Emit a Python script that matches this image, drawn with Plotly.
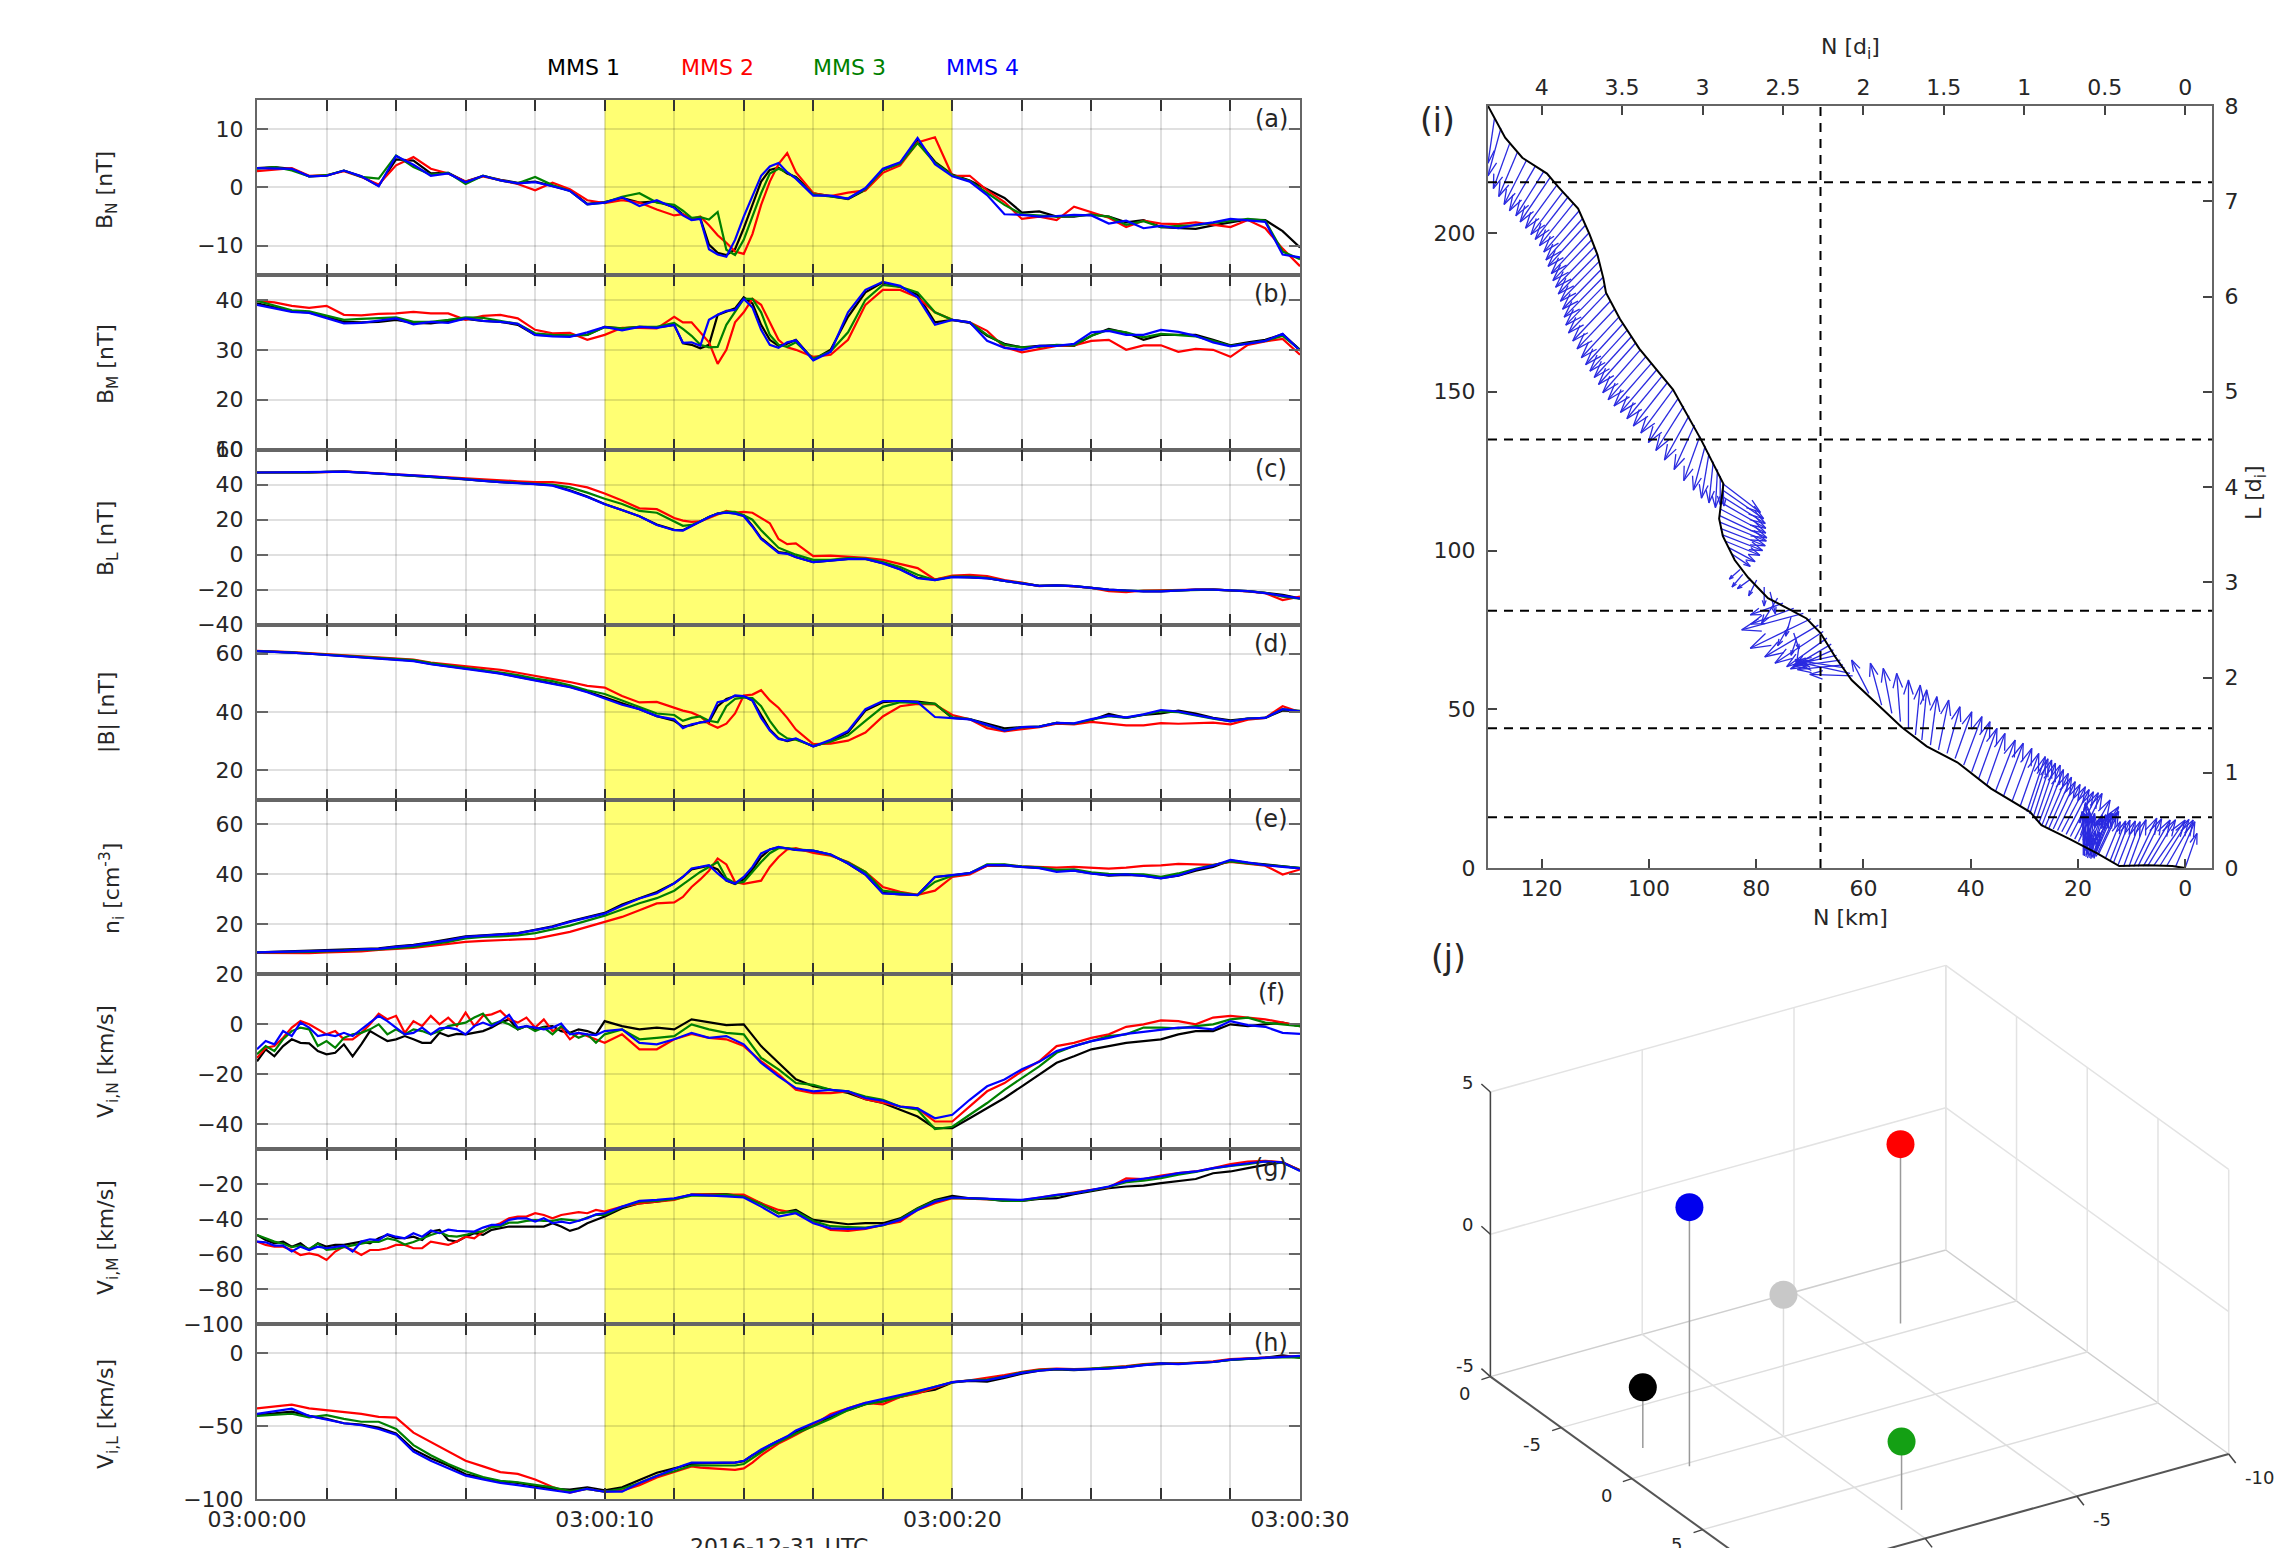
import plotly.graph_objects as go

W, H = 2275, 1548
FONT = "DejaVu Sans"

# ---- time grids (seconds after 03:00:00) ----
T = [0,.5,1,1.5,2,2.5,3,3.5,4,4.5,5,5.5, 6,6.5,7,7.5,8,8.5,9,9.5,10,10.5,11,11.5,
     12,12.25,12.5,12.75,13,13.25,13.5,13.75,14,14.25,14.5,14.75,15,15.25,
     15.5,16,16.5,17,17.5,18,18.5,19,19.5,20, 20.5,21,21.5,22,22.5,23,23.5,24,24.5,25,
     25.5,26,26.5,27,27.5,28,28.5,29,29.5,30]
TF = [0,.25,.5,.75,1,1.25,1.5,1.75,2,2.25, 2.5,2.75,3,3.25,3.5,3.75,4,4.25,4.5,4.75,
      5,5.25,5.5,5.75,6,6.25,6.5,6.75,7,7.25, 7.5,7.75,8,8.25,8.5,8.75,9,9.25,9.5,9.75,
      10,10.5,11,11.5,12,12.5,13,13.5,14,14.5, 15,15.5,16,16.5,17,17.5,18,18.5,19,19.5,
      20,20.5,21,21.5,22,22.5,23,23.5,24,24.5, 25,25.5,26,26.5,27,27.5,28,28.5,29,29.5,30]

# ---- (a) B_N ----
BN_K = [3.3,3.5,3.2,1.9,2.0,2.9,1.9,0.3,4.8,4.6,2.4,2.5,
        1.0,2.0,1.3,0.8,1.0,0.2,-0.5,-2.8,-2.5,-1.8,-2.6,-2.4,
        -3.4,-4.6,-5.5,-5.3,-9.8,-11.2,-11.6,-10.6,-7,-3,1,3.0,3.4,2.4,
        1.8,-1,-1.5,-2,-0.4,3,4.2,8,4.4,2.2,
        1.2,-0.3,-1.8,-4.3,-4.1,-5,-5,-4.6,-5,-6,
        -5.6,-6.8,-7,-7.1,-6.5,-6,-5.5,-5.6,-7.5,-10.3]
BN_R = [2.8,3.0,3.3,2.0,2.1,2.8,1.8,0.5,3.8,5.2,3.2,2.4,
        1.0,1.9,1.2,0.6,-0.5,0.8,-0.3,-2.2,-2.7,-2.2,-2.6,-3.8,
        -4.8,-4.6,-5.4,-5.0,-6.5,-8.2,-9.5,-11,-11.4,-8,-3,1,4,5.9,
        2.6,-1.0,-1.5,-0.9,-0.5,2.5,3.8,7.7,8.6,2.0,
        2.0,-0.5,-2.5,-5.4,-5.0,-5.6,-3.3,-4.3,-5.2,-6.8,
        -5.7,-6.2,-6.3,-6.0,-6.4,-6.8,-5.6,-7,-10.5,-13.5]
BN_G = [3.2,3.5,2.9,1.9,2.1,2.9,1.8,1.5,5.5,3.5,2.2,2.5,
        0.6,2.0,1.2,0.7,1.8,0.4,-0.6,-2.9,-2.6,-1.6,-1.0,-2.6,
        -3,-4,-5.2,-5.1,-5.5,-4.2,-10.7,-11.6,-9,-5,-1,2.4,3.2,2.6,
        1.6,-1.2,-1.6,-1.9,-0.3,3,4.1,7.6,4.2,2.1,
        1.1,-1,-3,-4.6,-4.8,-5,-4.9,-4.7,-5,-6.4,
        -5.8,-6.8,-6.6,-6.5,-6.1,-5.8,-5.4,-5.7,-11,-12.3]
BN_B = [3.3,3.3,3.2,1.9,2.0,2.9,1.9,0.2,5.4,3.9,2.0,2.4,
        0.9,2.0,1.2,0.7,0.9,0.2,-0.6,-2.9,-2.6,-1.7,-3.2,-2.2,
        -3.5,-4.8,-5.6,-5.4,-10.6,-11.5,-11.9,-9,-5,-1.5,2,3.6,4.2,2.6,
        1.5,-1.4,-1.4,-1.9,-0.1,3.2,4.3,8.5,4,1.9,
        1,-1.3,-4.6,-4.7,-5,-4.9,-4.7,-4.8,-6.2,-5.7,
        -7,-6.6,-7,-6.4,-6,-5.4,-5.7,-5.9,-11.5,-12]
# ---- (b) B_M ----
BM_K = [39.3,38.5,37.7,37.5,36.6,35.6,35.5,35.6,36.0,35.4,35.3,35.8,
        36.2,35.8,35.6,35.0,33,32.9,32.8,33,34.6,34.3,34.6,34.5,
        35,31.3,31,30.3,31,37,37.6,38.3,40.5,39.3,35,32,30.8,31.2,
        32,28,30,36.6,41.5,43.5,42.6,41,35.5,36,
        35.4,32.8,31.2,30.5,30.8,30.9,30.8,32.8,34.2,33.4,
        32,33,33,33,32,30.9,31.5,32,33.1,30]
BM_R = [39.8,39.5,38.8,38.4,38.8,37,36.9,37.2,37.3,37.6,37.3,37.3,
        36.0,36.8,37,36.3,34,33.3,33.4,32,33,34.4,34.4,34.3,
        36.6,35.5,35.5,33.5,31.5,27.2,30,35.5,37.5,40.2,39,35.5,32,30.5,
        30,28.6,29,32,39,42,42,40.5,37.5,36,
        35.5,33.8,30.5,29.5,30.2,30.8,30.9,31.8,32,30,
        30.9,30.9,29.6,30.2,30,28.6,31,31.7,32.2,29]
BM_G = [39.8,38.8,37.9,37.7,36.8,36.0,36.2,36.4,36.5,35.6,35.6,36,
        36.5,36.4,35.8,35.2,33.3,33,32.9,33,34.5,34.3,34.6,34.6,
        35.4,34.2,32.8,31,30.5,30.6,35,37.6,40.2,40.2,37.5,33,31,30.6,
        31.5,28.2,29.7,33.5,40,43,42.6,41.5,37.5,36,
        35.5,33,31,30.5,30.6,31,30.9,32.8,34,33.5,
        32.5,33.2,33,32.7,31.8,30.8,31.3,31.8,32.8,30]
BM_B = [39,38.3,37.6,37.4,36.4,35.3,35.4,35.8,36.3,35.1,35.6,35.4,
        36.3,35.8,35.6,35.2,33,32.7,32.6,33.5,34.6,33.9,34.6,34.4,
        35,31.4,31.5,30.8,36,37,37.8,38,40.2,38.5,34,31,30.4,31.5,
        31.9,27.9,29.6,37.5,42,43.6,42.8,40.5,35,36,
        35.5,31.8,30.4,30,30.8,30.8,31.2,33.5,33.8,33,
        33,34,33.6,32.8,31.5,30.7,31.3,31.8,33.2,29.8]
# ---- (c) B_L ----
BL_K = [47,47,46.8,47,47.3,47.5,47,46.4,45.8,45.3,44.6,43.8,
        43,42.1,41.5,41,40.3,39.7,36.8,33.2,29,25.7,22,17.2,
        14.2,14,16.5,19,21.5,23.5,24.2,23.6,22.5,16.5,9.5,5.5,1.5,0.8,
        -1.3,-4.2,-3.4,-2.4,-2.4,-4.8,-8.3,-13.2,-14.3,-12.6,
        -13,-13.4,-15,-16.2,-17.8,-17.6,-18,-19,-20,-20.5,
        -21,-21,-20.5,-20,-20,-20.3,-20.8,-21.8,-23,-25]
BL_R = [47,47,47,47,47.2,47.6,47,46.5,46,45.5,45,44,
        43.5,43,42.2,42,41.5,41.5,40.4,38.5,35,31,26.5,26,
        21,19.5,18.8,19,21,23,25,24,24.5,24,21,18,9,6,
        6.5,-0.8,-0.5,-1.2,-1.8,-3,-5.5,-7.7,-14.2,-12,
        -11.5,-12.2,-14.5,-16,-18,-17.5,-18.2,-19,-20.8,-21.5,
        -20.5,-20.3,-20.4,-20,-19.8,-20.5,-21,-22,-26,-24]
BL_G = [47,47,46.8,47,47.3,47.5,47,46.4,45.8,45.3,44.6,43.8,
        43.2,42.3,41.6,41,40.5,40,38.5,35.5,32,29,25,24,
        19,16.5,17,19,21.5,23.5,24.5,24.5,22.5,20,14,9,4,2,
        0,-3,-3,-2,-2.2,-4.3,-7,-11.5,-14.5,-12.5,
        -12.5,-13.3,-15,-16.2,-17.8,-17.6,-18,-19,-20.2,-20.6,
        -20.8,-20.7,-20.4,-20,-20,-20.4,-20.8,-21.8,-24,-25.2]
BL_B = [47,47,46.9,47,47.3,47.5,47,46.5,46,45.4,44.8,44,
        43,42.2,41.5,41,40.3,39.5,36.5,33,28.8,25.5,22,17,
        14,13.8,16.5,19,21.5,23.5,24,23.5,22,16,9,5,1,0.5,
        -1.5,-4.3,-3.5,-2.5,-2.5,-5,-8.5,-13.5,-14.5,-12.8,
        -13,-13.5,-15,-16.3,-17.8,-17.6,-18,-19,-20,-20.5,
        -21,-21,-20.5,-20,-20,-20.3,-20.8,-22,-23.5,-25]
# ---- (d) |B| ----
BT_K = [60.9,60.7,60.4,60,59.6,59.2,58.8,58.4,58,57.6,56.5,55.8,
        55,54.2,53.3,52.2,51,50,48.7,47,45,43,41,38.6,
        37,35,35.5,36.5,36.5,42,44.5,45.5,45.4,44,39,34,31,30,
        30.8,28.2,30,33,40.5,43.4,43.8,43.6,42.8,38,
        37.6,36,34.4,34.8,35,36.3,36,37.2,39.4,38,
        39,39.5,40.5,39.5,38,37.2,37.8,38,40.5,40.4]
BT_R = [61,60.9,60.6,60.2,59.8,59.4,59,58.6,58.3,58,57,56.4,
        55.8,55.2,54.5,53.5,52.5,51.5,50.3,49,48.4,45.5,43.3,43.5,
        41.5,40.5,39.8,38.5,36,34.6,36,39.5,45.7,46,47.5,44,41.5,38,
        34,29,29.2,30.2,33,38.5,42,42.8,42.6,39,
        37.5,34.5,33.4,34,34.8,36,35.8,36.6,36,35.4,
        35.4,36.2,36,36.2,36.4,35.8,37.4,38,42,40]
BT_G = [60.9,60.8,60.5,60.1,59.7,59.3,58.9,58.5,58.1,57.8,56.8,56,
        55.2,54.5,53.6,52.7,51.5,50.6,49.2,47.5,46.2,44,41.8,39.5,
        39,37,38,38.5,37,36.5,42,44.5,45,44.8,42,37,33,31,
        30.5,28.4,29.8,32,37,41.8,43.4,43.2,42.8,38.2,
        37.6,35.4,33.7,34.7,35,36.3,36,37.4,38.6,38,
        39,40.2,40,38.8,37.7,36.8,37.8,38,41,40.3]
BT_B = [60.9,60.7,60.4,60,59.6,59.2,58.8,58.4,58,57.5,56.4,55.6,
        54.8,54,53.2,52,50.8,49.8,48.5,46.8,44.7,42.5,41,38.6,
        37.5,34.5,35.8,36.5,37,43.4,44,45.7,45.5,44,38,33.7,30.8,30.2,
        31,28.2,30.5,33.5,41,43.8,43.8,43.4,38.3,37.9,
        37.5,35.6,33.6,34.8,35,36.3,36.1,37.6,38.8,38.2,
        39.2,40.7,40.2,39,37.8,36.8,37.8,38,41,40.2]
# ---- (e) n_i ----
NI_K = [8.8,9,9.1,9.3,9.5,9.8,10.1,10.4,11.2,11.8,12.8,14,
        15.2,15.6,15.9,16.5,17.8,19.2,21.2,23,24.6,28,30.6,33,
        36.5,39,42,42.8,43.5,42,37.5,36.2,38,42,47,50,50.8,50.4,
        49.8,49.4,48,44.4,40,32.6,32,31.8,39,39.6,
        40.5,43.5,43.6,43,42.6,41.5,41.5,40.5,39.5,39.8,
        39.5,38.5,39.5,41.5,43,45.6,44.6,44,43.4,42.5]
NI_R = [8.6,8.5,8.4,8.5,8.8,9,9.2,9.8,10.2,10.6,11.4,12.2,
        13,13.4,13.8,14,14.2,15.5,17,19,21,23,25.7,28.4,
        28.8,31,35,38,41.5,46.4,44,37,36.2,37,37.5,43,47,50,
        50.5,48.6,47.5,45,41,35,33,31.8,33.5,39,
        40,43.5,43.8,43.2,43,42.7,43,42.5,42.3,42.7,
        43.4,43.6,44.2,44,43.8,45,44.2,43.5,40,42]
NI_G = [8.8,8.8,8.9,9.0,9.2,9.4,9.8,10,10.5,11,12,13,
        14.4,15,15.2,15.6,16.5,18,19.5,21.5,23.5,26,28.5,30.5,
        33.5,36,38.5,41,43,45,38.5,36.5,37,41,45,48.5,50.5,50.5,
        50,49.5,47.8,44.8,41,33.5,32.5,31.7,37,39.5,
        40.5,44,44,43.2,42.8,41.8,42,40.8,40.2,40,
        40,39,40.4,42.3,43.6,45.2,44.4,43.8,43.2,42.6]
NI_B = [8.8,8.9,9.0,9.2,9.4,9.6,10,10.2,11,11.6,12.6,13.6,
        15,15.5,15.8,16.4,17.7,19,21,22.6,24.3,27.5,30.4,32.5,
        36.4,39,42.4,43,43.7,40.4,37.6,36.4,39,43,48.4,50,51,50.4,
        49.8,49.5,48,44.4,40,32.4,32,31.7,39,39.7,
        40.5,43.7,43.7,43,42.5,41,41.5,40.3,39.7,40,
        39.4,38.4,39.6,42,43.5,45.8,44.6,43.7,43,42.4]
# ---- (f) V_i,N (on TF) ----
VN_K = [-14.8,-10,-12.8,-8.7,-6,-7.4,-7.6,-10.7,-12,-11.4,
        -8,-12.8,-8,-2.7,-4.7,-6.7,-6,-4.7,-6,-7.4,
        -7.4,-3.4,-4.7,-3.8,-4,-3.4,-2.7,-1.3,0.7,2,
        -2,-0.7,-2,-1,-0.7,-2.7,-3.4,-2,-2.7,-4,
        1.3,-0.7,-2,-1.3,-2,2,0.7,-0.3,0,-8.7,
        -15.4,-22,-24.8,-26.2,-27.5,-30,-31.5,-34.2,-36.9,-41.6,
        -41.6,-37.6,-33.6,-29.5,-24.8,-20,-15.4,-12.8,-10,-8.7,
        -7.4,-6.7,-6,-4,-2.7,-2.7,0,-0.7,0,0.7,-0.7]
VN_R = [-13.4,-9.4,-8.7,-5.4,-1.3,1.3,0,-2,-4,-2.7,
        -6,-6,-3.4,0,4.3,2,3.4,-3.4,1.3,-0.7,
        3.4,0,2.7,-0.7,4.7,-0.7,3.4,4,5.4,2,
        0.7,2.7,-1.3,2,-2.7,-1.3,-6,-3.4,-4.7,-6,
        -7.4,-4,-10,-10,-6,-3.8,-5.4,-6,-8.7,-14.8,
        -20,-26.2,-27.5,-27.5,-26.8,-30,-31.5,-32.9,-33.6,-38.9,
        -38.9,-32.9,-26.8,-23.5,-18.8,-14.8,-8.7,-7.4,-5.4,-4,
        -1,0,1.6,1.3,0,2.7,3.4,2.7,2,0.7,-0.7]
VN_G = [-12,-8.7,-10.7,-6,-2.7,-1.3,-2,-8.7,-6.7,-9.4,
        -5.4,-4,-3.4,-2,0,-4,-2,-4,-2,-2.7,
        -4,-2.7,-0.7,0,0.7,2.7,4.3,0,1.3,0,
        -2,-0.7,-2.7,-1.3,-4,-0.7,-3.4,-5.4,-4,-7.4,
        -4,-2,-6,-5.4,-4.7,0,-2,-3.4,-4,-13.4,
        -18,-23.5,-24.2,-26.2,-26.8,-28.9,-30.2,-33,-34.2,-41.9,
        -41,-36.2,-31.5,-26.2,-21.5,-16.8,-11.4,-8.7,-6.7,-4.7,
        -4,-1.3,-1.3,-1.6,-0.7,0,2,2.7,0.7,0,-0.7]
VN_B = [-10,-6.7,-8,-2.7,-4.7,0.7,-1.3,-4.7,-4,-4.7,
        -3.4,-4.7,-2,0.7,3.4,1.3,-1.3,-4,-3.4,-1.3,
        -4,-1.6,-1.3,-2,-4,-0.7,0.7,-0.7,1.3,3.8,
        -1.3,-0.7,-1.3,-2,-1.3,0.3,-4,-3.4,-4,-4.3,
        -2.7,-2,-7.4,-8,-6,-3.4,-5.4,-4.7,-8,-15.4,
        -20.8,-25.5,-26.8,-26.2,-26.8,-29.5,-30.6,-32.9,-33.6,-37.6,
        -36.2,-30.2,-24.8,-22.1,-18,-15,-10.7,-8.7,-6.7,-5.4,
        -3.8,-3,-2,-1.3,-1.3,-2,1.3,-0.3,-1,-3.4,-3.8]
# ---- (g) V_i,M (on TF) ----
VM_K = [-49,-51.9,-53.8,-52.8,-55.7,-53.8,-57.6,-53.8,-55.7,-54.7,
        -54.7,-53.8,-52.8,-53.8,-50.9,-49,-50.9,-50.9,-50,-51.9,
        -47.1,-46.1,-51.9,-52.8,-50,-48,-49,-46.1,-45.2,-44.2,
        -44.2,-44.2,-44.2,-44.2,-42.3,-44.2,-46.7,-45.2,-42.3,-40.4,
        -38.5,-33.7,-30.9,-30,-28.4,-26,-26,-25.7,-27,-30.9,
        -36.6,-34.7,-40.4,-41.8,-42.9,-42.3,-42.3,-39.5,-33.7,-29,
        -26.7,-28,-28.4,-29.5,-29.5,-28.4,-28,-25.7,-23.8,-22.3,
        -21.3,-20.8,-19.4,-18,-17,-13.7,-12.7,-10.8,-8.9,-7.5,-12]
VM_R = [-52.8,-54.7,-55.7,-55.7,-57.6,-60.5,-59.5,-60.5,-63.3,-58.5,
        -55.7,-57.6,-60.5,-57.6,-57.6,-56.6,-54.7,-54.7,-56.6,-56.6,
        -52.8,-53.8,-54.7,-52.8,-50,-50.9,-47.1,-44.2,-42.3,-39.5,
        -38.5,-38.5,-36.6,-37.6,-39.5,-37.6,-36.6,-36,-36.6,-34.7,
        -35.6,-32.8,-31,-30,-29,-26,-26,-25.7,-26,-30.9,
        -34.7,-36.6,-41.4,-46.1,-46.7,-45.6,-43.3,-41.4,-34.7,-30.9,
        -28,-28.4,-29,-29,-29.2,-27.6,-26,-24.5,-23.2,-21.9,
        -16.6,-17,-15,-13.7,-12.7,-10.8,-8.5,-7,-6.6,-7.5,-12]
VM_G = [-49,-51,-52.8,-54,-56,-55,-57,-54,-57.5,-57,
        -56,-55,-54,-53,-53,-51,-52,-54.5,-53,-51,
        -49,-47.5,-49.5,-50,-49,-47.5,-47,-44.5,-44,-42,
        -42,-41,-40.5,-41,-41,-40,-40.5,-41,-39,-37.5,
        -37.5,-33,-30,-29.5,-28.5,-26.5,-26.5,-26,-27,-31.5,
        -36.5,-35.5,-41,-44,-44.5,-44.8,-43.5,-40,-34,-29.5,
        -27.8,-28,-28.5,-29.5,-29.5,-28,-26.5,-25,-23.5,-21.5,
        -18.8,-18,-16.5,-14.5,-13,-11,-9.5,-8.5,-7,-7.8,-12.2]
VM_B = [-52.8,-53.2,-55.1,-55.1,-58.5,-55.7,-57.6,-55.7,-56.6,-55.7,
        -55.1,-58.5,-52.8,-51.5,-51.9,-48.6,-50,-50.9,-48,-50,
        -46.5,-48,-46,-46.7,-46.7,-47.1,-44.8,-43.3,-43.3,-40.4,
        -39.5,-39.5,-41.4,-39.5,-42.3,-41.4,-42.3,-41,-39.5,-37.2,
        -36.6,-32.8,-29.5,-29,-28,-26,-26.7,-27,-27.6,-32.8,
        -38.5,-36.6,-42.3,-45.2,-45.6,-45.2,-43.3,-40.4,-34.7,-30,
        -27.6,-28,-28.4,-29,-29,-27.6,-26,-25.2,-23.2,-21.3,
        -18.1,-17,-15.6,-13.7,-12.7,-10.8,-9.3,-8,-7,-7.5,-12.5]
# ---- (h) V_i,L ----
VL_K = [-42.5,-41.5,-40,-43,-45,-48,-49,-51,-55,-66,-72,-77,
        -83,-85.5,-88,-89,-91,-93,-93.5,-92,-94,-92,-87,-82,
        -79,-77.5,-76,-75.5,-75.5,-75.5,-75.5,-75,-74,-70,-67,-63,-60,-57.5,
        -54,-49,-44,-39,-35,-33,-30,-27,-25,-20,
        -19,-19.5,-17,-14,-12,-11,-11.5,-11,-10.5,-9.5,
        -8,-7.5,-7.5,-7,-6,-4.5,-4,-3,-1.5,-3]
VL_R = [-37.8,-36.5,-35.2,-37.8,-39,-40.4,-41.6,-43.7,-44.2,-54.5,-61,-67.4,
        -73.8,-77.6,-81.5,-82.8,-86.6,-91.8,-95.6,-93,-95,-94.3,-90.5,-85.3,
        -81.5,-79.5,-77.6,-78.5,-79,-79.5,-80,-80,-79,-75,-70,-66,-62,-59,
        -56,-49.4,-41.6,-37.8,-34,-35,-30,-27.5,-23.6,-19.8,
        -18.5,-17,-15,-12.8,-11,-10.5,-10.8,-10.5,-9.8,-8.8,
        -7.5,-6.8,-7,-6.5,-5.5,-4,-3.5,-3,-2.5,-2]
VL_G = [-43,-42,-41.5,-44,-42.5,-45,-47,-47,-52,-63,-70,-76,
        -81,-85,-87.5,-88.5,-90,-92,-94.5,-93,-95,-93,-89,-84,
        -81,-79,-77,-77,-77,-77.5,-77.5,-77,-76,-72,-68,-64,-61,-58,
        -55,-50,-45,-39,-35,-33,-30,-26.5,-23,-20,
        -18.5,-18,-16,-13,-11.5,-10.8,-11.2,-10.5,-10,-9.2,
        -7.8,-7,-7.2,-6.8,-6,-4.5,-3.8,-3.2,-2.6,-3]
VL_B = [-41.6,-40,-38,-43,-45.5,-48,-49.4,-52,-55.8,-67.4,-73.8,-79,
        -84,-86.5,-89,-90.5,-92,-94,-95.6,-93,-95,-95,-89,-84,
        -79,-77,-75,-75,-75,-75,-75,-75,-73.8,-70,-66,-63,-60,-57,
        -53,-48,-43,-37.8,-34,-31.4,-28.8,-26,-23,-19.8,
        -18.8,-18.5,-16,-13.5,-12,-10.8,-11.2,-10.8,-10.5,-9.5,
        -8.2,-7,-7.5,-7,-6,-4.4,-3.8,-3,-2.5,-1.8]

PROBES = ["MMS 1", "MMS 2", "MMS 3", "MMS 4"]
PROBE_COLORS = ["#000000", "#ff0000", "#008000", "#0000ff"]

SPAN_START, SPAN_END = 10, 20
TIME_LABEL_VALS = [0, 10, 20, 30]
TIME_LABELS = ["03:00:00", "03:00:10", "03:00:20", "03:00:30"]
TIME_MINOR = [2, 4, 6, 8, 12, 14, 16, 18, 22, 24, 26, 28]

PANELS = [
 dict(tag="(a)", label="B<sub>N</sub> [nT]", rng=[-15, 15], ticks=[-10, 0, 10], t=T, s=[BN_K, BN_R, BN_G, BN_B]),
 dict(tag="(b)", label="B<sub>M</sub> [nT]", rng=[10, 45], ticks=[10, 20, 30, 40], t=T, s=[BM_K, BM_R, BM_G, BM_B]),
 dict(tag="(c)", label="B<sub>L</sub> [nT]", rng=[-40, 60], ticks=[-40, -20, 0, 20, 40, 60], t=T, s=[BL_K, BL_R, BL_G, BL_B]),
 dict(tag="(d)", label="|B| [nT]", rng=[10, 70], ticks=[20, 40, 60], t=T, s=[BT_K, BT_R, BT_G, BT_B]),
 dict(tag="(e)", label="n<sub>i</sub> [cm<sup>-3</sup>]", rng=[0, 70], ticks=[20, 40, 60], t=T, s=[NI_K, NI_R, NI_G, NI_B]),
 dict(tag="(f)", label="V<sub>i,N</sub> [km/s]", rng=[-50, 20], ticks=[-40, -20, 0, 20], t=TF, s=[VN_K, VN_R, VN_G, VN_B]),
 dict(tag="(g)", label="V<sub>i,M</sub> [km/s]", rng=[-100, 0], ticks=[-100, -80, -60, -40, -20], t=TF, s=[VM_K, VM_R, VM_G, VM_B]),
 dict(tag="(h)", label="V<sub>i,L</sub> [km/s]", rng=[-100, 20], ticks=[-100, -50, 0], t=T, s=[VL_K, VL_R, VL_G, VL_B]),
]
for p in PANELS:
    for s in p["s"]:
        if len(s) != len(p["t"]):
            raise ValueError(f'{p["tag"]}: {[len(q) for q in p["s"]]} vs {len(p["t"])}')

# ---- (i) boundary profile, km ----
CURVE_N = [130,126.8,123.6,119,116.9,113.2,111.1,109.6,108.5,108,105.4,101.8,95.5,90.3,86.1,86.4,86.9,86.2,84,81.5,77.8,73.7,70.6,68,65.3,62.2,58.1,52.9,48.2,42.5,36.2,28.9,26.8,21.6,16.4,12.3,7.1,2.4,0]
CURVE_L = [240,230,223.7,218.7,214.5,207.7,199.7,193.2,185.8,181.2,172.9,163.6,150.7,135,121,116.5,110,104.5,97,91.5,85,81.4,78.6,74,66.6,59.2,52.7,44.4,38.3,33.3,25,17.6,13.5,9.2,4.6,0.6,0.9,0.6,0]
DASH_L = [216, 135, 81, 44, 16]
DASH_N = [68]

# quiver: base N, base L, delta N, delta L
Q = [
 (128.8,236,1.2,-14),(127.6,233,2.4,-15),(126,228,3,-14),(124.5,225.5,3.5,-14),(122.8,223,4.2,-14),
 (121.2,221,4.8,-14),(119.6,219.4,5.2,-14),(118.4,217.5,5.6,-14),(117.2,215,5.8,-13.5),(116,213,6,-13.5),
 (115,211.5,6.2,-13.5),(114,209.5,6.4,-13.5),(113,207,6.6,-13),(112.4,204.5,6.8,-13),(111.8,202.5,7,-13),
 (111.2,200,7,-12.8),(110.7,197.8,7.2,-12.8),(110.2,195.5,7.2,-12.6),(109.7,193.3,7.2,-12.5),(109.3,191,7.2,-12.5),
 (108.9,188.5,7.2,-12.5),(108.6,186,7.2,-12.5),(108.3,183.5,7.2,-12.5),(108,181,7,-12.5),(107.2,178.5,7,-12.5),
 (106.4,176,7,-12.5),(105.6,173.5,7,-12.8),(104.8,171.5,7,-13),(104,169.5,7,-13),(103.2,167.5,7,-13),
 (102.4,165.5,7,-13.2),(101.6,163.2,7,-13.5),(100.6,161,7,-13.5),(99.5,159,7,-13.5),(98.5,157,6.8,-13.5),
 (97.5,155,6.6,-13.5),(96.5,153,6.4,-13.8),(95.5,150.7,6,-13.7),(94.5,148,5.6,-14),(93.5,145.5,5.2,-14),
 (92.5,142.5,4.6,-14),(91.5,139.5,3.8,-14),(90.5,136,3,-14),(89.5,133,2.2,-14),(88.8,130.5,1.4,-14),
 (88,128,0.8,-13),(87.2,125.5,0.4,-12),(86.7,123.5,0,-9),(86.2,121,-0.2,-7),
 # lobe
 (86.2,121,-7,-9),(86.2,119,-7.6,-9),(86.3,117,-8,-8.5),(86.4,115,-8.2,-8),(86.6,113,-8.4,-7.5),(86.8,111,-8.8,-7),
 (86.9,109,-8.8,-6),(86.7,107,-8.4,-5.5),(86.4,105,-7.6,-5),(85.8,103,-6.5,-4.5),(85.2,101,-5,-4.5),(84.6,99,-3.5,-4),
 # cluster
 (83,94,2,-3),(82.5,92.5,2,-4),(81,91,2.5,-3),(79.9,90.7,1.5,-5),(78.5,88.5,0,-6),(77.4,87,-1,-7),(76,85,3,-8),
 (75,83.4,6.1,-3.7),(73,81.8,8,-5),(71.2,80.2,11.5,-5.2),(69.8,78.5,11.3,-9.3),(68.4,76.5,10,-10),(67.5,74.5,9,-10),
 (66.8,72.4,7.5,-9),(66,70.5,7,-7),(65.6,68.7,8,-6),(65,67,8,-3),(64.3,65.5,8.5,-2),(63.8,64,8.5,-1.5),
 (62.5,61.3,10,3.7),(63.5,63,9,2.5),(62,60.5,8,0.5),(74,76,2,-6),(73,74,-1,-5),(72.5,72,1,-5),(72,70,0.5,-6),(73.5,79,1,-6),
 # lower band
 (59,55,3.2,10.5),(56.6,51.3,2.1,13.2),(54.7,48.7,1.6,14.2),(53.1,46.1,0.7,15.2),(51.6,44,0,15.2),
 (50.3,41.9,-0.9,15.7),(49.1,40.3,-0.9,15.8),(47.5,38.7,-1.2,15.3),(46,37.2,-1.9,15.7),(44.4,36.1,-2.4,14.7),
 (42.9,34.5,-3.1,14.7),(41.3,32.4,-3.4,15.3),(39.8,30.3,-3.4,15.8),(38.5,28.2,-3.4,15.8),(37,26.1,-3.4,16.3),
 (35.4,24,-3.7,16.3),(33.9,22.5,-3.7,16.8),(32.3,20.9,-3.7,16.8),(30.8,19.3,-3.5,16.8),(29.5,17.7,-3.4,17.4),
 (29,17,-3.4,17.4),(28.3,16.2,-3.4,17.8),(27.8,15,-3.6,18),(27.3,14.1,-4,18.3),(26.7,13.5,-4,17.5),(26.1,13,-4.3,16.8),
 (25.4,12.6,-4.2,16),(24.6,12.3,-4.1,14.9),(23.8,11.8,-4.2,14.5),(23,11.4,-4.4,14.2),(22.2,10.6,-4.3,14.1),
 (21.4,9.9,-4.3,14.1),(20.6,9.1,-4.4,14.6),(19.9,8.3,-4.4,15.2),(18.6,7.2,-4.6,14.2),(17.7,6.2,-5.3,13.1),
 # blob
 (18.4,7.4,0.8,10.1),(18,6.8,0.5,10.2),(17.8,6.3,-0.1,10.2),(18.6,5.5,-1.6,11),(18.9,4.7,-1.9,11.8),(18.5,4,-3,12.6),
 (18,3.6,-3.2,13.2),(17.4,3.3,-3.2,13.7),(17,3.2,-3.5,14),(16.6,3.6,-3.8,13.8),(16.2,4.2,-3.8,13.6),(17.2,5,1.5,15),
 (17.6,4.6,1,16),(18.2,4.2,0.6,13),(18.9,5.8,0.3,12),(19,4,0,9),(18.5,3.5,-0.5,9),(17.8,3.2,-1,8.5),(17.2,3.3,-1.2,8),
 (18.7,6.5,0.4,11),(18.3,5.8,-0.4,11.5),(17.9,5.2,-1,12),(17.5,4.2,-2,12.5),(17,3.9,-2.6,13),(16.8,4.4,-3,13),
 (18.8,3.8,-0.2,7),(18.2,3.1,-0.8,7),(17.6,2.9,-0.8,6.5),(17,3,-1,6),
 # bottom
 (14.9,3,-2.8,11.6),(14,2.2,-2.9,12.6),(13.4,1.5,-3.1,13.6),(12.5,1,-3.2,13.8),(11.5,0.4,-3.1,14.2),(10.5,0.4,-3.2,14.8),
 (9.6,0.5,-4.3,15.2),(8.8,0.5,-4.4,15),(7.8,0.6,-5,14.5),(7,0.6,-5.2,14.6),(5.9,0.7,-5.9,14.4),(4.7,0.7,-5.4,14.6),
 (3.4,0.8,-4.9,14.3),(1.8,0.4,-3.6,14.2),(0,0.1,-2.2,10.8),
]

# ---- (j) spacecraft positions, km ----
SC_X = [3.73, -6.5, -0.38, 3.22, -0.05]
SC_Y = [-1.95, -5.69, 7.52, 0.25, -0.12]
SC_Z = [-2.87, 1.3, -2.6, 4.1, -0.08]
SC_COLORS = ["#000000", "#ff0000", "#14a014", "#0000ee", "#c8c8c8"]
SC_STEMS = ["#9a9a9a", "#9a9a9a", "#9a9a9a", "#9a9a9a", "#dddddd"]
BOX_X = [5, 0, -5, -10]
BOX_Y = [-10, -5, 0, 5, 10]
BOX_Z = [-5, 0, 5]


def pxx(x): return x / W
def pxy(y): return 1 - y / H


def proj(X, Y, Z):
    return (1490.4 + (5 - X) * 30.36 + (Y + 10) * 14.145,
            1376.6 - (5 - X) * 8.44 + (Y + 10) * 10.2 - (Z + 5) * 28.46)


fig = go.Figure()
layout = dict(width=W, height=H, margin=dict(l=0, r=0, t=0, b=0, autoexpand=False), showlegend=False,
              paper_bgcolor="white", plot_bgcolor="white",
              font=dict(family=FONT, size=22, color="#262626"), hovermode=False)

X0, X1, Y0, Y1 = 257, 1300, 100, 1499
step = (Y1 - Y0) / 8
AXLINE = "#666666"
GRID = "rgba(0,0,0,0.12)"
annotations = []


def note(x, y, text, size=22, color="#262626", angle=0, xanchor="center", yanchor="middle"):
    annotations.append(dict(x=pxx(x), y=pxy(y), xref="paper", yref="paper", text=text, showarrow=False,
                            font=dict(family=FONT, size=size, color=color), textangle=angle,
                            xanchor=xanchor, yanchor=yanchor))


LABEL_Y = [190, 364, 539, 713, 889, 1062, 1238, 1414]
LABEL_X = [107, 107, 107, 107, 112, 107, 107, 107]
for i, p in enumerate(PANELS):
    n = i + 1
    top = Y0 + i * step
    for s, c, name in zip(p["s"], PROBE_COLORS, PROBES):
        fig.add_trace(go.Scatter(x=p["t"], y=s, mode="lines", name=name, line=dict(color=c, width=2.2),
                                 xaxis=f"x{n}", yaxis=f"y{n}"))
    layout[f"xaxis{n}"] = dict(domain=[pxx(X0), pxx(X1)], range=[0, 30], anchor=f"y{n}",
                               tickmode="array", tickvals=TIME_LABEL_VALS, ticktext=TIME_LABELS,
                               showticklabels=(i == 7),
                               ticks="inside", ticklen=11, tickwidth=1.5, tickcolor="#333333",
                               minor=dict(tickmode="array", tickvals=TIME_MINOR, ticks="inside", ticklen=11,
                                          tickwidth=1.5, tickcolor="#333333", showgrid=True,
                                          gridcolor=GRID, gridwidth=2),
                               showline=True, linecolor=AXLINE, linewidth=2, mirror="ticks",
                               showgrid=True, gridcolor=GRID, gridwidth=2, zeroline=False,
                               tickfont=dict(family=FONT, size=22, color="#262626"))
    layout[f"yaxis{n}"] = dict(domain=[pxy(top + step), pxy(top)], range=p["rng"], anchor=f"x{n}",
                               tickmode="array", tickvals=p["ticks"],
                               ticks="inside", ticklen=11, tickwidth=1.5, tickcolor="#666666",
                               showline=True, linecolor=AXLINE, linewidth=2, mirror="ticks",
                               showgrid=True, gridcolor=GRID, gridwidth=2, zeroline=False,
                               ticklabelstandoff=7,
                               tickfont=dict(family=FONT, size=22, color="#262626"))
    note(1271, top + 19, p["tag"], size=24)
    note(LABEL_X[i], LABEL_Y[i], p["label"], angle=-90)

shapes = [dict(type="rect", xref="x1", yref="paper", x0=SPAN_START, x1=SPAN_END,
               y0=pxy(Y1), y1=pxy(Y0), fillcolor="#ffff73", line=dict(width=0), layer="below")]

for name, c, x in zip(PROBES, PROBE_COLORS, [583, 717, 849, 982]):
    note(x, 67, name, color=c)
note(779, 1532, "2016-12-31 UTC", yanchor="top")

# ---- panel (i)
IX0, IX1, IY0, IY1 = 1488, 2212, 106, 868
KM_X, KM_Y = (IX1 - IX0) / 135, (IY1 - IY0) / 240
qx, qy = [], []
for n0, l0, dn, dl in Q:
    n1, l1 = n0 + dn, l0 + dl
    # arrowhead computed on the drawn (pixel-proportional) aspect
    u, v = -dn * KM_X, dl * KM_Y
    a, b = 0.30, 0.33
    h1 = (-a * (u + b * v), -a * (v - b * u))
    h2 = (-a * (u - b * v), -a * (v + b * u))
    qx += [n0, n1, None, n1 - h1[0] / KM_X, n1, n1 - h2[0] / KM_X, None]
    qy += [l0, l1, None, l1 + h1[1] / KM_Y, l1, l1 + h2[1] / KM_Y, None]
fig.add_trace(go.Scatter(x=qx, y=qy, mode="lines", line=dict(color="#2a2ae0", width=1.3), xaxis="x9", yaxis="y9"))
fig.add_trace(go.Scatter(x=CURVE_N, y=CURVE_L, mode="lines", line=dict(color="black", width=2), xaxis="x9", yaxis="y9"))
for l in DASH_L:
    fig.add_trace(go.Scatter(x=[130, -5], y=[l, l], mode="lines", line=dict(color="black", width=2, dash="9px,7px"),
                             xaxis="x9", yaxis="y9"))
for v in DASH_N:
    fig.add_trace(go.Scatter(x=[v, v], y=[0, 240], mode="lines", line=dict(color="black", width=2, dash="9px,7px"),
                             xaxis="x9", yaxis="y9"))
fig.add_trace(go.Scatter(x=[0], y=[0], mode="lines", line=dict(width=0), xaxis="x10", yaxis="y10", showlegend=False))
common = dict(ticks="inside", ticklen=9, tickwidth=1.5, tickcolor="#444444", showline=True, linecolor=AXLINE,
              linewidth=2, showgrid=False, zeroline=False, tickfont=dict(family=FONT, size=22, color="#262626"))
layout["xaxis9"] = dict(domain=[pxx(IX0), pxx(IX1)], range=[130, -5], anchor="y9", tickmode="array",
                        tickvals=[0, 20, 40, 60, 80, 100, 120], **common)
layout["yaxis9"] = dict(domain=[pxy(IY1), pxy(IY0)], range=[0, 240], anchor="x9", tickmode="array",
                        tickvals=[0, 50, 100, 150, 200], ticklabelstandoff=6, **common)
layout["xaxis10"] = dict(domain=[pxx(IX0), pxx(IX1)], range=[130 / 30, -5 / 30], anchor="y10", overlaying="x9", side="top",
                         tickmode="array", tickvals=[0, .5, 1, 1.5, 2, 2.5, 3, 3.5, 4],
                         ticktext=["0", "0.5", "1", "1.5", "2", "2.5", "3", "3.5", "4"], **common)
layout["yaxis10"] = dict(domain=[pxy(IY1), pxy(IY0)], range=[0, 8], anchor="x10", overlaying="y9", side="right",
                         tickmode="array", tickvals=list(range(9)), ticklabelstandoff=6, **common)
note(1850, 917, "N [km]")
note(1850, 48, "N [d<sub>i</sub>]")
note(2256, 493, "L [d<sub>i</sub>]", angle=-90)
note(1437, 120, "(i)", size=33)
note(1448, 958, "(j)", size=33)

# ---- panel (j): orthographic box, projected onto a hidden 2D axes
JX0, JY0 = 1440, 920
layout["xaxis11"] = dict(domain=[pxx(JX0), 1], range=[JX0, W], visible=False, anchor="y11")
layout["yaxis11"] = dict(domain=[0, pxy(JY0)], range=[H, JY0], visible=False, anchor="x11")


def seg(a, b, color, width):
    pa, pb = proj(*a), proj(*b)
    fig.add_trace(go.Scatter(x=[pa[0], pb[0]], y=[pa[1], pb[1]], mode="lines",
                             line=dict(color=color, width=width), xaxis="x11", yaxis="y11"))


def tick(a, dx, dy, color="#444444"):
    pa = proj(*a)
    fig.add_trace(go.Scatter(x=[pa[0], pa[0] + dx], y=[pa[1], pa[1] + dy], mode="lines",
                             line=dict(color=color, width=1.5), xaxis="x11", yaxis="y11"))


WALL = "#e3e3e3"
for z in BOX_Z:
    seg((5, -10, z), (-10, -10, z), WALL if z > -5 else "#cfcfcf", 1.5)
    seg((-10, -10, z), (-10, 10, z), WALL if z > -5 else "#cfcfcf", 1.5)
for x in BOX_X:
    seg((x, -10, -5), (x, -10, 5), WALL, 1.5)
    if x != 5 and x != -10:
        seg((x, -10, -5), (x, 10, -5), "#dedede", 1.5)
for y in BOX_Y:
    seg((-10, y, -5), (-10, y, 5), WALL, 1.5)
    if y != -10 and y != 10:
        seg((-10, y, -5), (5, y, -5), "#dedede", 1.5)
seg((5, -10, -5), (5, -10, 5), "#444444", 1.5)
seg((5, -10, -5), (5, 10, -5), "#555555", 2)
seg((-10, 10, -5), (5, 10, -5), "#555555", 2)
for z in BOX_Z:
    tick((5, -10, z), -9, -8)
for y in BOX_Y[:-1]:
    tick((5, y, -5), -9, 3)
for x in BOX_X[1:]:
    tick((x, 10, -5), 7, 9)

for i in range(5):
    seg((SC_X[i], SC_Y[i], SC_Z[i]), (SC_X[i], SC_Y[i], -5), SC_STEMS[i], 1.5)
pts = [proj(SC_X[i], SC_Y[i], SC_Z[i]) for i in range(5)]
fig.add_trace(go.Scatter(x=[p[0] for p in pts], y=[p[1] for p in pts], mode="markers",
                         marker=dict(color=SC_COLORS, size=28, line=dict(width=0)),
                         xaxis="x11", yaxis="y11"))

for txt, x, y in [("5", 1467, 1082), ("0", 1467, 1224), ("-5", 1465, 1365),
                  ("0", 1464, 1393), ("-5", 1532, 1444), ("0", 1606, 1495), ("5", 1676, 1544),
                  ("-10", 2259, 1477), ("-5", 2102, 1519)]:
    note(x, y, txt, size=18)

layout["annotations"] = annotations
layout["shapes"] = shapes
fig.update_layout(**layout)
fig.write_html("out.html", config=dict(displayModeBar=False),
               post_script="document.body.style.margin='0';document.body.style.overflow='hidden';")
